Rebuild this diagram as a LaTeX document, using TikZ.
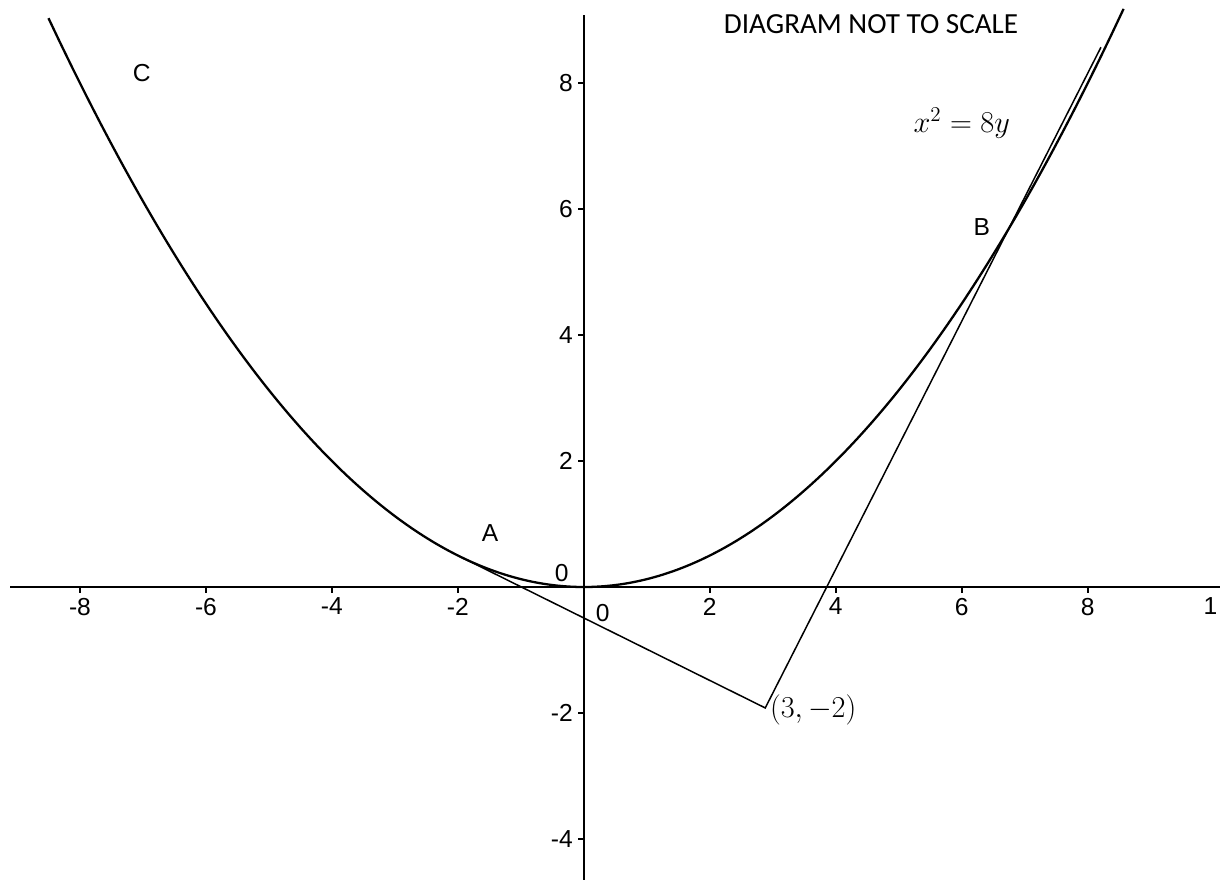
\documentclass[tikz,border=0pt]{standalone}
\usepackage{fontspec}
\setmainfont{Liberation Sans}
\newfontfamily\noteFont{Carlito}
\usepackage{tikz}
\usetikzlibrary{positioning}
\tikzset{
  axisline/.style={line width=1.4pt, black},
  tickmark/.style={line width=1pt},
  ticklabel/.style={font=\fontsize{14}{16}\selectfont, inner sep=0pt},
  curveline/.style={line width=1.3pt},
  tangentline/.style={line width=0.85pt},
  ptlabel/.style={font=\fontsize{14}{16}\selectfont, inner sep=0pt},
  mathlabel/.style={font=\fontsize{17.5}{20}\selectfont, inner sep=0pt}
}

\begin{document}
\begin{tikzpicture}[x=1.26cm, y=1.26cm]
  \useasboundingbox (-9.27,-4.65) rectangle (10.1,9.32);

  % Axes
  \coordinate (xleft) at (-9.11,0);
  \coordinate (xright) at (10.1,0);
  \coordinate (ytop) at (0,9.08);
  \coordinate (ybot) at (0,-4.65);
  \draw[axisline] (xleft) -- (xright);
  \draw[axisline] (ybot) -- (ytop);

  % Ticks on x
  \foreach \xx in {-8,-6,-4,-2,2,4,6,8} {
    \draw[tickmark] (\xx,0) -- (\xx,-0.09);
    \node[ticklabel, anchor=north] (xlab\xx) at (\xx,-0.17) {\xx};
  }
  \node[ticklabel, anchor=north] (xlab10) at (9.95,-0.17) {1};

  % Ticks on y
  \foreach \yy in {-4,-2,2,4,6,8} {
    \draw[tickmark] (0,\yy) -- (-0.09,\yy);
    \node[ticklabel, anchor=east] (ylab\yy) at (-0.17,\yy) {\yy};
  }
  \node[ticklabel] (zeroy) at (-0.35,0.22) {0};
  \node[ticklabel] (zerox) at (0.30,-0.41) {0};

  % Parabola x^2 = 8y
  \draw[curveline] plot[domain=-8.5:8.57, samples=90, smooth] (\x, {\x*\x/8});

  % Tangents from (3,-2)
  \coordinate (ptP) at (2.88,-1.92);
  \coordinate (ptA) at (-2,0.5);
  \coordinate (ptBend) at (8.21,8.57);
  \draw[tangentline] (ptA) -- (ptP) -- (ptBend);

  % Labels
  \node[ptlabel] (labA) at (-1.49,0.86) {A};
  \node[ptlabel] (labB) at (6.32,5.71) {B};
  \node[ptlabel] (labC) at (-7.02,8.16) {C};
  \node[mathlabel, anchor=west] (labP) at (2.95,-1.95) {$(3,-2)$};
  \node[mathlabel] (eqn) at (6.0,7.36) {$x^2=8y$};
  \node[font=\noteFont\fontsize{16.6}{19}\selectfont, inner sep=0pt]
    (note) at (4.56,8.93) {DIAGRAM NOT TO SCALE};
\end{tikzpicture}
\end{document}
